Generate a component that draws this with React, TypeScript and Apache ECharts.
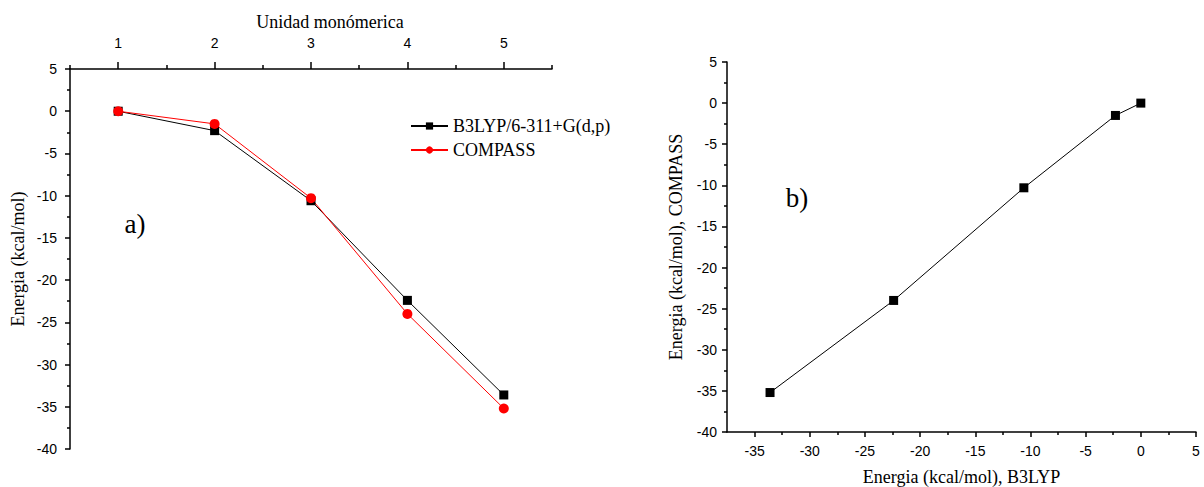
import React, { useEffect, useRef } from "react";
import * as echarts from "echarts";

// ---- data ----
const units = [1, 2, 3, 4, 5];
const b3lyp = [0, -2.3, -10.6, -22.4, -33.6];
const compass = [0, -1.5, -10.3, -24.0, -35.2];
const topMajorTicks = [1, 2, 3, 4, 5];
const bottomMajorTicks = [-35, -30, -25, -20, -15, -10, -5, 0, 5];
const bottomMinorTicks = [-32.5, -27.5, -22.5, -17.5, -12.5, -7.5, -2.5, 2.5];
const seriesNames = ["B3LYP/6-311+G(d,p)", "COMPASS"];

const SANS = "Liberation Sans";
const SERIF = "Liberation Serif";

export default function App() {
  const ref = useRef<HTMLDivElement>(null);
  useEffect(() => {
    if (!ref.current) return;
    const chart = echarts.init(ref.current, undefined, { renderer: "svg" });
    const axisLine = { show: true, onZero: false, lineStyle: { color: "#000", width: 1.5 } };
    const noLine = { show: false, onZero: false };
    const tickLine = { color: "#000", width: 1.5 };
    const labelStyle = { color: "#000", fontFamily: SANS, fontSize: 14 };
    const nameStyle = { color: "#000", fontFamily: SERIF, fontSize: 18 };
    const gridBase = { containLabel: false, outerBoundsMode: "none" };
    const leftRect = { left: 70, top: 69, width: 482, height: 380, ...gridBase };
    const rightRect = { left: 727, top: 62, width: 469, height: 370, ...gridBase };

    const option: any = {
      animation: false,
      backgroundColor: "#fff",
      grid: [{ ...leftRect }, { ...rightRect }, { ...rightRect }],
      xAxis: [
        {
          // ticks counted from 0.5 (half-unit minor ticks); minor ticks at the integers act as the major ticks
          gridIndex: 0,
          type: "value",
          position: "top",
          min: 0.5,
          max: 5.5,
          interval: 1,
          axisLine,
          axisTick: { show: true, length: 4, lineStyle: tickLine },
          minorTick: { show: true, splitNumber: 2, length: 7, lineStyle: tickLine },
          axisLabel: { customValues: topMajorTicks, margin: 19, ...labelStyle },
          splitLine: { show: false },
          minorSplitLine: { show: false },
        },
        {
          gridIndex: 1,
          type: "value",
          position: "bottom",
          min: -37.5,
          max: 5,
          axisLine,
          axisTick: { show: true, customValues: bottomMajorTicks, length: 5, lineStyle: tickLine },
          axisLabel: { customValues: bottomMajorTicks, margin: 12, ...labelStyle },
          splitLine: { show: false },
          name: "Energia (kcal/mol), B3LYP",
          nameLocation: "middle",
          nameGap: 36,
          nameTextStyle: nameStyle,
        },
        {
          gridIndex: 2,
          type: "value",
          position: "bottom",
          min: -37.5,
          max: 5,
          axisLine: noLine,
          axisTick: { show: true, customValues: bottomMinorTicks, length: 3, lineStyle: tickLine },
          axisLabel: { show: false },
          splitLine: { show: false },
        },
      ],
      yAxis: [
        {
          gridIndex: 0,
          type: "value",
          min: -40,
          max: 5,
          interval: 5,
          axisLine,
          axisTick: { show: true, length: 5, lineStyle: tickLine },
          minorTick: { show: true, splitNumber: 2, length: 3, lineStyle: tickLine },
          axisLabel: { margin: 13, ...labelStyle },
          splitLine: { show: false },
          minorSplitLine: { show: false },
          name: "Energia (kcal/mol)",
          nameLocation: "middle",
          nameGap: 43,
          nameRotate: 90,
          nameTextStyle: nameStyle,
        },
        {
          gridIndex: 1,
          type: "value",
          min: -40,
          max: 5,
          interval: 5,
          axisLine,
          axisTick: { show: true, length: 5, lineStyle: tickLine },
          minorTick: { show: true, splitNumber: 2, length: 3, lineStyle: tickLine },
          axisLabel: { margin: 10, ...labelStyle },
          splitLine: { show: false },
          minorSplitLine: { show: false },
          name: "Energia (kcal/mol), COMPASS",
          nameLocation: "middle",
          nameGap: 42,
          nameRotate: 90,
          nameTextStyle: nameStyle,
        },
        {
          gridIndex: 2,
          type: "value",
          min: -40,
          max: 5,
          show: false,
        },
      ],
      legend: {
        left: 410,
        top: 117,
        orient: "vertical",
        itemWidth: 37,
        itemHeight: 9,
        itemGap: 6,
        padding: 0,
        textStyle: { color: "#000", fontFamily: SERIF, fontSize: 18 },
        data: seriesNames,
      },
      series: [
        {
          name: seriesNames[0],
          type: "line",
          xAxisIndex: 0,
          yAxisIndex: 0,
          data: units.map((u, i) => [u, b3lyp[i]]),
          symbol: "rect",
          symbolSize: 9,
          itemStyle: { color: "#000" },
          lineStyle: { color: "#000", width: 1 },
        },
        {
          name: seriesNames[1],
          type: "line",
          xAxisIndex: 0,
          yAxisIndex: 0,
          data: units.map((u, i) => [u, compass[i]]),
          symbol: "circle",
          symbolSize: 10,
          itemStyle: { color: "#ff0000" },
          lineStyle: { color: "#ff0000", width: 1 },
        },
        {
          name: "b",
          type: "line",
          xAxisIndex: 1,
          yAxisIndex: 1,
          data: b3lyp.map((b, i) => [b, compass[i]]),
          symbol: "rect",
          symbolSize: 9,
          itemStyle: { color: "#000" },
          lineStyle: { color: "#000", width: 1 },
        },
      ],
      graphic: [
        {
          type: "text",
          x: 330,
          y: 22,
          style: {
            text: "Unidad monómerica",
            fill: "#000",
            font: `18px "${SERIF}"`,
            textAlign: "center",
            textVerticalAlign: "middle",
          },
        },
        {
          type: "text",
          x: 135,
          y: 224,
          style: {
            text: "a)",
            fill: "#000",
            font: `27px "${SERIF}"`,
            textAlign: "center",
            textVerticalAlign: "middle",
          },
        },
        {
          type: "text",
          x: 797,
          y: 198,
          style: {
            text: "b)",
            fill: "#000",
            font: `27px "${SERIF}"`,
            textAlign: "center",
            textVerticalAlign: "middle",
          },
        },
      ],
    };
    chart.setOption(option);
    return () => chart.dispose();
  }, []);
  return (
    <div
      ref={ref}
      style={{ position: "fixed", left: 0, top: 0, width: 1204, height: 487, background: "#fff" }}
    />
  );
}
